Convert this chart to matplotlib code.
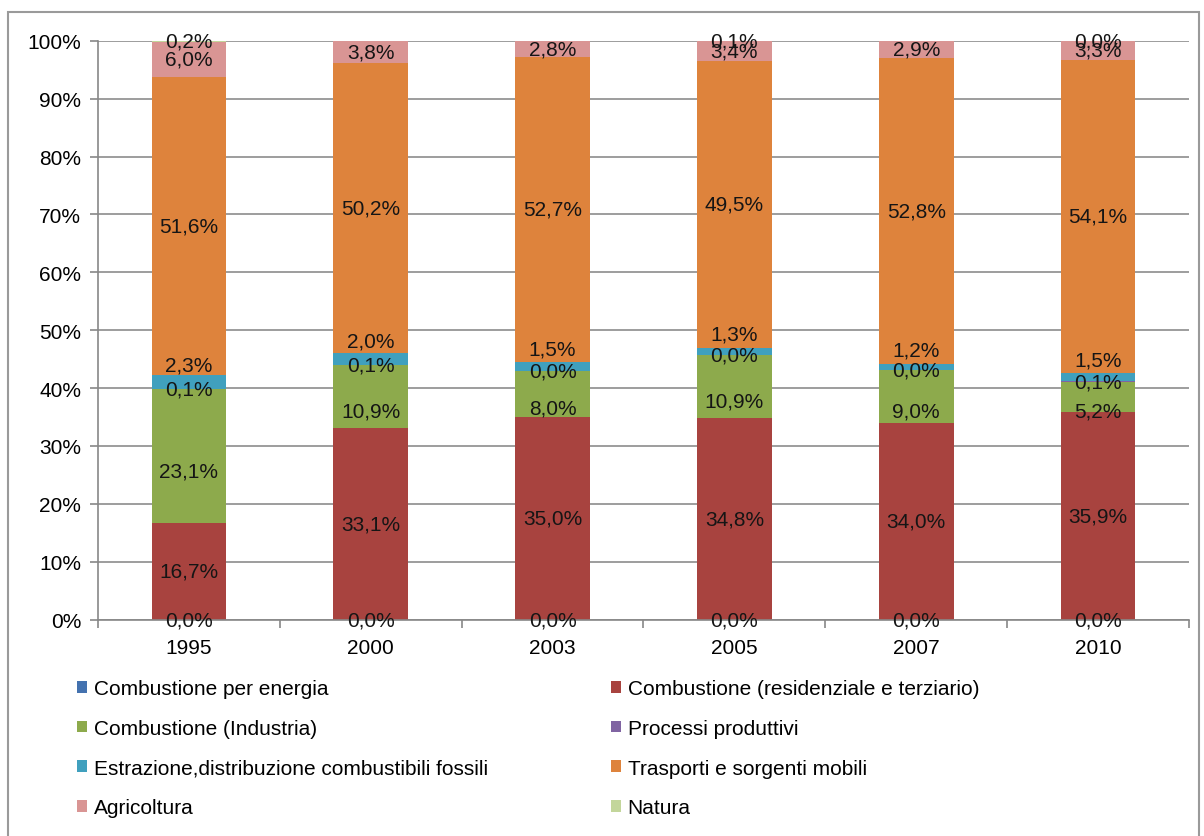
"""100% stacked bars: share of emissions by source sector, 1995-2010."""
import numpy as np
import matplotlib
matplotlib.use("Agg")
from matplotlib import pyplot as plt
from matplotlib.patches import Rectangle

plt.rcParams["font.family"] = ["Liberation Sans", "DejaVu Sans"]

years = ["1995", "2000", "2003", "2005", "2007", "2010"]

series_names = [
    "Combustione per energia",
    "Combustione (residenziale e terziario)",
    "Combustione (Industria)",
    "Processi produttivi",
    "Estrazione,distribuzione combustibili fossili",
    "Trasporti e sorgenti mobili",
    "Agricoltura",
    "Natura",
]

# percent values, bottom to top of each bar
energia = [0.0, 0.0, 0.0, 0.0, 0.0, 0.0]
residenziale = [16.7, 33.1, 35.0, 34.8, 34.0, 35.9]
industria = [23.1, 10.9, 8.0, 10.9, 9.0, 5.2]
processi = [0.1, 0.1, 0.0, 0.0, 0.0, 0.1]
estrazione = [2.3, 2.0, 1.5, 1.3, 1.2, 1.5]
trasporti = [51.6, 50.2, 52.7, 49.5, 52.8, 54.1]
agricoltura = [6.0, 3.8, 2.8, 3.4, 2.9, 3.3]
natura = [0.2, 0.0, 0.0, 0.1, 0.0, 0.0]

# the chart only prints the "Natura" label on some bars
natura_label_shown = [True, False, False, True, False, True]

colors = ["#4472AF", "#A8433F", "#8DAA4C", "#8064A2",
          "#40A0BE", "#DE833C", "#D99594", "#C3D69B"]

# the original nudges the thin-segment labels apart (percentage points)
label_nudge = [0, 0, -2.5, 0, 3.0, 0, 0, 0]

FS = 15

values = np.array([energia, residenziale, industria, processi,
                   estrazione, trasporti, agricoltura, natura])
shares = values / values.sum(axis=0) * 100.0

fig = plt.figure(figsize=(12.04, 8.37), dpi=100)
ax = fig.add_axes([98 / 1204, 1 - 620.7 / 837, (1189 - 98) / 1204, (620.7 - 41.7) / 837])

x = np.arange(len(years))
bottom = np.zeros(len(years))
handles = []
for k, name in enumerate(series_names):
    bars = ax.bar(x, shares[k], 0.41, bottom=bottom, color=colors[k],
                  label=name, zorder=2)
    handles.append(bars)
    for i in range(len(years)):
        if k == 7 and not natura_label_shown[i]:
            continue
        ax.text(x[i], bottom[i] + shares[k][i] / 2 + label_nudge[k],
                f"{values[k][i]:.1f}%".replace(".", ","),
                ha="center", va="center", fontsize=FS, color="#151515", zorder=3)
    bottom += shares[k]

ax.set_xlim(-0.5, len(years) - 0.5)
ax.set_ylim(0, 100)
ax.set_yticks(np.arange(0, 101, 10))
ax.set_yticklabels([f"{v}%" for v in range(0, 101, 10)], fontsize=FS)
ax.set_xticks(x)
ax.set_xticklabels(years, fontsize=FS)
ax.set_xticks(np.arange(-0.5, len(years), 1.0), minor=True)
ax.tick_params(axis="x", which="major", length=0, pad=13)
ax.tick_params(axis="x", which="minor", length=6, color="#888888", width=1.2)
ax.tick_params(axis="y", length=6, color="#888888", width=1.2, pad=6)
ax.grid(axis="y", color="#8c8c8c", lw=1.2, zorder=1)
for side in ("top", "right"):
    ax.spines[side].set_visible(False)
for side in ("left", "bottom"):
    ax.spines[side].set_color("#888888")
    ax.spines[side].set_linewidth(1.2)

# legend filled row by row in the original: left column = even series
leg_kw = dict(loc="upper left", frameon=False, fontsize=FS, ncol=1,
              handlelength=0.5, handleheight=0.5, handletextpad=0.3,
              labelspacing=1.0, borderpad=0, borderaxespad=0)
fig.legend(handles[0::2], series_names[0::2],
           bbox_to_anchor=(77 / 1204, 1 - 680 / 837), **leg_kw)
fig.legend(handles[1::2], series_names[1::2],
           bbox_to_anchor=(611 / 1204, 1 - 680 / 837), **leg_kw)

# chart-area frame
fig.patches.append(Rectangle((8 / 1204, -0.1), (1199 - 8) / 1204, 1.1 - 13 / 837,
                             transform=fig.transFigure, fill=False,
                             edgecolor="#9a9a9a", lw=1.5))

fig.savefig("out.png", dpi=100)
